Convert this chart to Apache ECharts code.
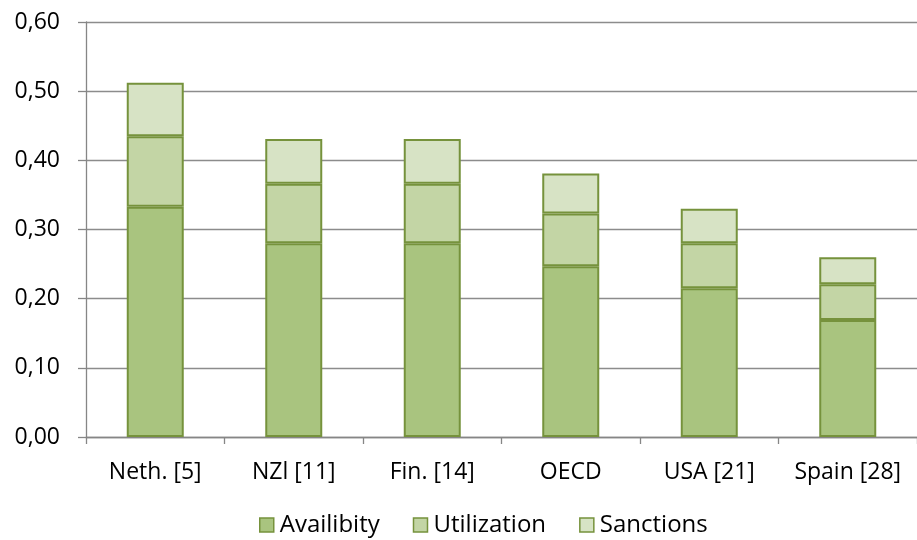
<!DOCTYPE html>
<html>
<head>
<meta charset="utf-8">
<script src="https://cdn.jsdelivr.net/npm/echarts@6/dist/echarts.min.js"></script>
<style>
  html, body { margin: 0; padding: 0; background: #ffffff; }
  #chart { width: 917px; height: 540px; }
</style>
</head>
<body>
<div id="chart"></div>
<script>
// Countries (with rank) and the three stacked components of the score
const categories = ['Neth. [5]', 'NZl [11]', 'Fin. [14]', 'OECD', 'USA [21]', 'Spain [28]'];
const availibity  = [0.333, 0.280, 0.280, 0.247, 0.215, 0.169];
const utilization = [0.102, 0.086, 0.086, 0.076, 0.065, 0.052];
const sanctions   = [0.077, 0.065, 0.065, 0.058, 0.050, 0.039];
const seriesNames = ['Availibity', 'Utilization', 'Sanctions'];

const fills = ['#A9C47F', '#C3D5A5', '#D7E3C5'];
const edge = '#76923C';
const font = '"Open Sans", sans-serif';

const chart = echarts.init(document.getElementById('chart'), null, { renderer: 'canvas' });

const makeSeries = (name, data, i) => ({
  name: name,
  type: 'bar',
  stack: 'score',
  data: data,
  barWidth: 57,
  itemStyle: { color: fills[i], borderColor: edge, borderWidth: 2 },
  emphasis: { disabled: true }
});

chart.setOption({
  animation: false,
  backgroundColor: '#ffffff',
  textStyle: { fontFamily: font },
  grid: { left: 86, top: 22, bottom: 103, right: -11, containLabel: false },
  legend: {
    top: 508,
    left: 254,
    itemWidth: 14,
    itemHeight: 14,
    itemGap: 33,
    icon: 'rect',
    textStyle: { fontFamily: font, fontSize: 24, color: '#000000', padding: [0, 0, 0, 1] },
    data: seriesNames.map((n, i) => ({ name: n, itemStyle: { color: fills[i], borderColor: edge, borderWidth: 1.5 } }))
  },
  xAxis: {
    type: 'category',
    data: categories,
    axisLine: { lineStyle: { color: '#868686', width: 1.3 } },
    axisTick: { show: true, length: 7, lineStyle: { color: '#868686', width: 1.3 } },
    axisLabel: { color: '#000000', fontSize: 23, fontFamily: font, margin: 24, interval: 0, hideOverlap: false }
  },
  yAxis: {
    type: 'value',
    min: 0,
    max: 0.6,
    interval: 0.1,
    axisLine: { show: true, lineStyle: { color: '#868686', width: 1.3 } },
    axisTick: { show: true, length: 8, lineStyle: { color: '#868686', width: 1.3 } },
    splitLine: { lineStyle: { color: '#8C8C8C', width: 1.3 } },
    axisLabel: {
      color: '#000000', fontSize: 23, fontFamily: font, margin: 26,
      formatter: v => v.toFixed(2).replace('.', ',')
    }
  },
  series: [
    makeSeries(seriesNames[0], availibity, 0),
    makeSeries(seriesNames[1], utilization, 1),
    makeSeries(seriesNames[2], sanctions, 2)
  ]
});
</script>
</body>
</html>
